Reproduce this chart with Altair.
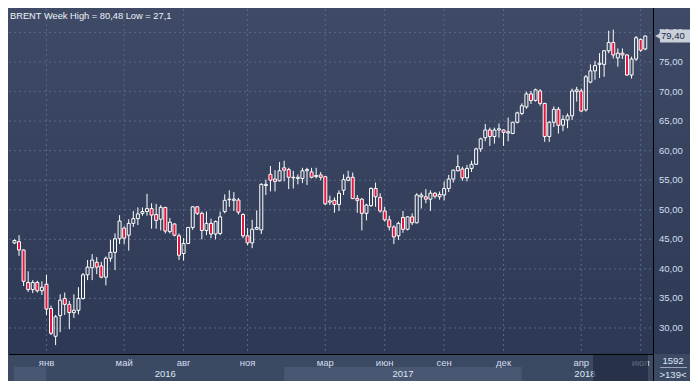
import altair as alt
import pandas as pd

TITLE = "BRENT Week High = 80,48 Low = 27,1"

# Weekly candles: week 0 = week of 16 Nov 2015 ... week 138 = week of 9 Jul 2018
open_ = [44.4, 44.6, 43.2, 37.7, 36.5, 37.7, 36.3, 37.4, 33.3, 28.6,
         32.1, 35.0, 34.0, 32.6, 33.0, 35.0, 39.0, 40.2, 41.1, 40.5,
         38.6, 41.8, 42.8, 45.1, 46.9, 45.7, 47.7, 48.5, 49.4, 49.7,
         50.2, 49.2, 48.4, 50.4, 46.3, 47.6, 45.6, 42.6, 44.3, 47.0,
         50.5, 49.4, 46.5, 47.7, 45.9, 46.0, 49.7, 51.7, 51.6, 51.65,
         49.2, 45.6, 44.4, 46.7, 46.6, 54.1, 56.0, 55.2, 54.9, 57.1,
         56.8, 55.4, 55.3, 55.3, 56.6, 56.4, 55.6, 55.9, 55.6, 51.3,
         51.6, 50.9, 53.3, 55.0, 55.5, 51.9, 51.8, 49.4, 50.7, 53.6,
         52.1, 49.8, 48.3, 47.1, 45.6, 48.7, 46.7, 48.8, 47.8, 52.2,
         52.2, 51.8, 52.8, 52.2, 52.5, 53.6, 55.2, 56.6, 56.9, 55.4,
         57.0, 57.7, 60.3, 62.2, 63.5, 62.4, 63.5, 63.5, 63.0, 62.9,
         64.8, 66.3, 67.4, 69.6, 68.5, 70.1, 68.0, 62.4, 64.8, 67.0,
         64.3, 65.2, 65.9, 70.0, 70.1, 66.9, 71.6, 73.5, 74.6, 74.6,
         76.9, 78.3, 75.7, 76.5, 76.2, 72.8, 75.5, 78.8, 77.2]
high = [45.0, 45.7, 43.3, 39.6, 38.1, 38.0, 37.9, 39.0, 33.8, 32.2,
        35.7, 36.0, 34.6, 35.7, 36.9, 39.3, 41.5, 42.5, 42.0, 41.2,
        42.1, 44.9, 46.0, 49.1, 47.2, 48.4, 49.8, 50.4, 50.4, 52.7,
        51.1, 51.0, 50.8, 50.5, 48.6, 47.7, 46.0, 45.2, 47.1, 50.6,
        50.6, 49.7, 49.7, 48.5, 48.2, 49.7, 52.6, 53.3, 53.0, 52.0,
        49.4, 46.9, 48.3, 49.9, 54.5, 55.1, 57.4, 56.7, 58.1, 58.3,
        57.1, 56.6, 56.0, 57.1, 57.1, 57.1, 57.1, 56.4, 55.7, 52.4,
        52.1, 53.3, 56.0, 56.6, 56.3, 52.5, 52.0, 51.0, 53.8, 54.6,
        52.8, 50.5, 49.0, 47.4, 48.0, 49.8, 48.9, 49.4, 52.8, 52.9,
        53.5, 53.3, 53.0, 53.1, 54.8, 55.9, 56.8, 59.3, 57.3, 57.6,
        58.3, 60.5, 62.2, 64.5, 63.9, 63.9, 64.6, 63.6, 65.6, 64.9,
        66.6, 68.0, 70.0, 70.1, 70.5, 70.4, 68.1, 65.0, 67.5, 67.4,
        66.0, 66.3, 70.5, 70.8, 70.5, 72.8, 74.6, 75.2, 76.5, 77.0,
        80.3, 80.48, 77.3, 77.3, 76.3, 75.9, 79.4, 79.0, 79.5]
low = [44.2, 42.2, 37.1, 36.1, 35.9, 36.0, 35.6, 32.2, 28.8, 27.1,
       29.3, 32.2, 29.8, 31.7, 32.3, 34.8, 38.1, 38.1, 39.1, 38.4,
       37.2, 41.2, 39.8, 44.2, 44.2, 43.1, 47.1, 47.4, 49.0, 49.0,
       46.8, 46.8, 46.5, 46.0, 46.0, 45.5, 41.5, 41.4, 44.2, 46.6,
       49.1, 45.0, 45.7, 45.2, 45.0, 45.7, 49.4, 50.5, 49.8, 49.2,
       45.2, 44.0, 43.5, 46.6, 45.9, 52.5, 53.1, 53.1, 54.8, 54.8,
       53.5, 53.6, 54.3, 54.5, 54.2, 55.3, 55.3, 55.0, 50.8, 50.8,
       49.5, 49.8, 52.5, 54.8, 51.8, 49.5, 46.5, 48.2, 50.5, 50.5,
       49.5, 48.0, 46.5, 44.2, 44.9, 46.1, 46.5, 47.4, 47.7, 50.2,
       51.1, 49.8, 51.9, 51.7, 51.6, 53.0, 54.6, 56.5, 54.9, 54.8,
       56.4, 57.6, 59.8, 61.6, 60.8, 61.2, 62.2, 60.8, 61.6, 62.8,
       64.6, 66.0, 67.1, 67.9, 68.3, 67.6, 61.5, 61.5, 64.0, 62.9,
       63.3, 63.8, 65.2, 68.3, 66.5, 66.6, 71.4, 72.0, 72.3, 72.5,
       76.5, 75.6, 74.2, 75.5, 72.7, 72.2, 75.2, 76.7, 77.0]
close = [44.8, 43.2, 37.9, 36.5, 37.7, 36.3, 36.9, 33.2, 29.1, 31.9,
         34.7, 34.0, 32.6, 33.0, 35.0, 39.0, 40.3, 41.5, 40.3, 38.6,
         41.8, 42.8, 45.1, 48.1, 45.2, 47.7, 48.5, 49.3, 49.7, 50.2,
         49.1, 48.2, 50.4, 46.4, 47.9, 45.7, 42.3, 44.3, 47.0, 50.5,
         49.4, 46.5, 47.7, 45.9, 48.0, 48.8, 51.6, 51.8, 51.8, 49.6,
         45.6, 44.4, 46.7, 47.0, 54.3, 54.3, 55.0, 54.8, 56.6, 56.7,
         55.5, 55.5, 55.5, 56.6, 56.8, 55.5, 55.8, 55.5, 51.0, 51.5,
         50.9, 52.8, 55.1, 55.5, 51.9, 51.6, 49.4, 50.8, 53.6, 52.2,
         49.8, 48.3, 47.1, 45.4, 47.7, 46.7, 48.8, 47.8, 52.5, 52.5,
         51.8, 52.8, 52.3, 52.6, 53.6, 55.2, 56.7, 57.3, 55.4, 57.0,
         57.7, 60.3, 62.0, 63.5, 62.4, 63.5, 63.7, 63.1, 63.2, 64.8,
         66.4, 67.6, 69.6, 68.5, 70.3, 68.0, 62.4, 64.8, 67.0, 64.3,
         65.3, 65.9, 70.1, 70.3, 66.7, 72.5, 73.5, 74.4, 74.8, 76.9,
         78.3, 76.2, 76.5, 76.2, 72.8, 75.5, 79.1, 77.0, 79.4]

price_ticks = [30, 35, 40, 45, 50, 55, 60, 65, 70, 75, 80]
price_labels = ["30,00", "35,00", "40,00", "45,00", "50,00", "55,00",
                "60,00", "65,00", "70,00", "75,00", "80,00"]
month_weeks = [7, 24, 37, 51, 68, 81, 94, 107, 124, 137]
month_labels = ["янв", "май", "авг", "ноя", "мар", "июн", "сен", "дек", "апр", "июл"]
year_labels = ["", "2016", "2017", "2018"]
year_from = [-0.1, 7, 59, 111]
year_to = [7, 59, 111, 138.6]
last_price = 79.40
last_label = "79,40"
bars_total = "1592"
bars_shown = ">139<"
window_from = 126.6

# ---------------------------------------------------------------------------
W, H = 644, 345
X_DOM = [-0.1, 138.6]
Y_DOM = [25.6, 83.97]
xs = alt.Scale(domain=X_DOM, nice=False, zero=False)
ys = alt.Scale(domain=Y_DOM, nice=False, zero=False)
FONT = "Liberation Sans"
RED = "#e3163e"
GRID = "#5b6882"
LABEL = "#d2def0"


def X(f):
    return alt.X(f, type="quantitative", scale=xs, axis=None)


def Y(f):
    return alt.Y(f, type="quantitative", scale=ys, axis=None)


df = pd.DataFrame({"week": list(range(len(open_))), "open": open_, "high": high,
                   "low": low, "close": close})
df["top"] = df[["open", "close"]].max(axis=1)
df["bot"] = df[["open", "close"]].min(axis=1)

one = pd.DataFrame({"a": [0]})
ticks = pd.DataFrame({"p": price_ticks, "lab": price_labels})
months = pd.DataFrame({"w": month_weeks, "lab": month_labels})
years = pd.DataFrame({"f": year_from, "t": year_to, "lab": year_labels,
                      "i": list(range(len(year_labels)))})
years["mid"] = (years["f"] + years["t"]) / 2
last = pd.DataFrame({"p": [last_price], "lab": [last_label]})
window = pd.DataFrame({"f": [window_from], "t": [X_DOM[1]]})

grad = alt.LinearGradient(
    gradient="linear",
    stops=[alt.GradientStop(color="#3f4b66", offset=0),
           alt.GradientStop(color="#2c3854", offset=1)],
    x1=0, x2=0, y1=0, y2=1)

bg = alt.Chart(one).mark_rect(fill=grad).encode(
    x=alt.value(-1), x2=alt.value(690), y=alt.value(-1), y2=alt.value(H))

year_rows = alt.Chart(years).mark_rect().encode(
    x=X("f"), x2="t", y=alt.value(358), y2=alt.value(372),
    fill=alt.condition("datum.i % 2 == 0", alt.value("#4a5772"), alt.value("#3c4963")))

hgrid = alt.Chart(ticks).mark_rule(color=GRID, strokeDash=[2, 3], strokeWidth=1).encode(
    y=Y("p"), x=alt.value(0), x2=alt.value(W))
vgrid = alt.Chart(months).mark_rule(color=GRID, strokeDash=[2, 3], strokeWidth=1).encode(
    x=X("w"), y=alt.value(0), y2=alt.value(H))

wick_hi = alt.Chart(df).mark_rule(color="#ffffff", strokeWidth=1).encode(
    x=X("week"), y=Y("high"), y2="top")
wick_lo = alt.Chart(df).mark_rule(color="#ffffff", strokeWidth=1).encode(
    x=X("week"), y=Y("bot"), y2="low")
bodies = alt.Chart(df).mark_bar(size=3, stroke="#ffffff", strokeWidth=1).encode(
    x=X("week"), y=Y("open"), y2="close",
    fill=alt.condition("datum.close < datum.open", alt.value(RED), alt.value("transparent")))

sep_h = alt.Chart(one).mark_rule(color="#000000", strokeWidth=1).encode(
    x=alt.value(0), x2=alt.value(W), y=alt.value(H + 0.5))
sep_v = alt.Chart(one).mark_rule(color="#000000", strokeWidth=1).encode(
    x=alt.value(W + 0.5), y=alt.value(-1), y2=alt.value(372))

ylabels = alt.Chart(ticks).mark_text(align="left", baseline="middle", font=FONT,
                                     fontSize=9.5, color=LABEL).encode(
    x=alt.value(650), y=Y("p"), text="lab")

last_box = alt.Chart(last).mark_rule(color="#c9d0da", strokeWidth=13).encode(
    x=alt.value(651), x2=alt.value(681), y=Y("p"))
last_tip = alt.Chart(last).mark_point(shape="triangle-left", filled=True, size=45,
                                      color="#c9d0da", opacity=1).encode(
    x=alt.value(649), y=Y("p"))
last_txt = alt.Chart(last).mark_text(align="left", baseline="middle", font=FONT,
                                     fontSize=9.5, color="#1c2a44").encode(
    x=alt.value(652), y=Y("p"), text="lab")

title = alt.Chart(one).mark_text(align="left", baseline="alphabetic", font=FONT,
                                 fontSize=9.3, color="#eef2f8").encode(
    x=alt.value(1), y=alt.value(9.5), text=alt.value(TITLE))

mlabels = alt.Chart(months).mark_text(align="center", baseline="alphabetic", font=FONT,
                                      fontSize=9.5, color=LABEL).encode(
    x=X("w"), y=alt.value(356.5), text="lab")
ylab_row = alt.Chart(years).mark_text(align="center", baseline="alphabetic", font=FONT,
                                      fontSize=9.5, color="#dde6f3").encode(
    x=X("mid"), y=alt.value(368), text="lab")

overlay = alt.Chart(window).mark_rect(fill="#1c263d", opacity=0.65).encode(
    x=X("f"), x2="t", y=alt.value(H + 1), y2=alt.value(372))

counts = pd.DataFrame({"lab": [bars_total, bars_shown], "y": [355, 368.5]})
count_txt = alt.Chart(counts).mark_text(align="center", baseline="alphabetic", font=FONT,
                                        fontSize=9.5, color="#dde6f3").encode(
    x=alt.value(664), y=alt.value(0), text="lab")
count_txt = alt.layer(
    alt.Chart(one).mark_text(align="center", baseline="alphabetic", font=FONT,
                             fontSize=9.5, color="#dde6f3").encode(
        x=alt.value(664), y=alt.value(355), text=alt.value(bars_total)),
    alt.Chart(one).mark_text(align="center", baseline="alphabetic", font=FONT,
                             fontSize=9.5, color="#dde6f3").encode(
        x=alt.value(664), y=alt.value(368.5), text=alt.value(bars_shown)),
)
count_sep = alt.Chart(one).mark_rule(color="#9aa6b8", strokeWidth=1).encode(
    x=alt.value(651), x2=alt.value(678), y=alt.value(358.5))

chart = alt.layer(
    bg, year_rows, hgrid, vgrid, wick_hi, wick_lo, bodies, sep_h, sep_v,
    ylabels, last_box, last_tip, last_txt, title, mlabels, ylab_row, overlay,
    count_txt, count_sep,
).properties(
    width=W, height=H,
    background="#3c4963",
    padding={"left": 1, "top": 1, "right": 37, "bottom": 27},
    autosize=alt.AutoSizeParams(type="none"),
).configure_view(stroke=None)

chart.save("out.html", embed_options={"renderer": "svg", "actions": False})
